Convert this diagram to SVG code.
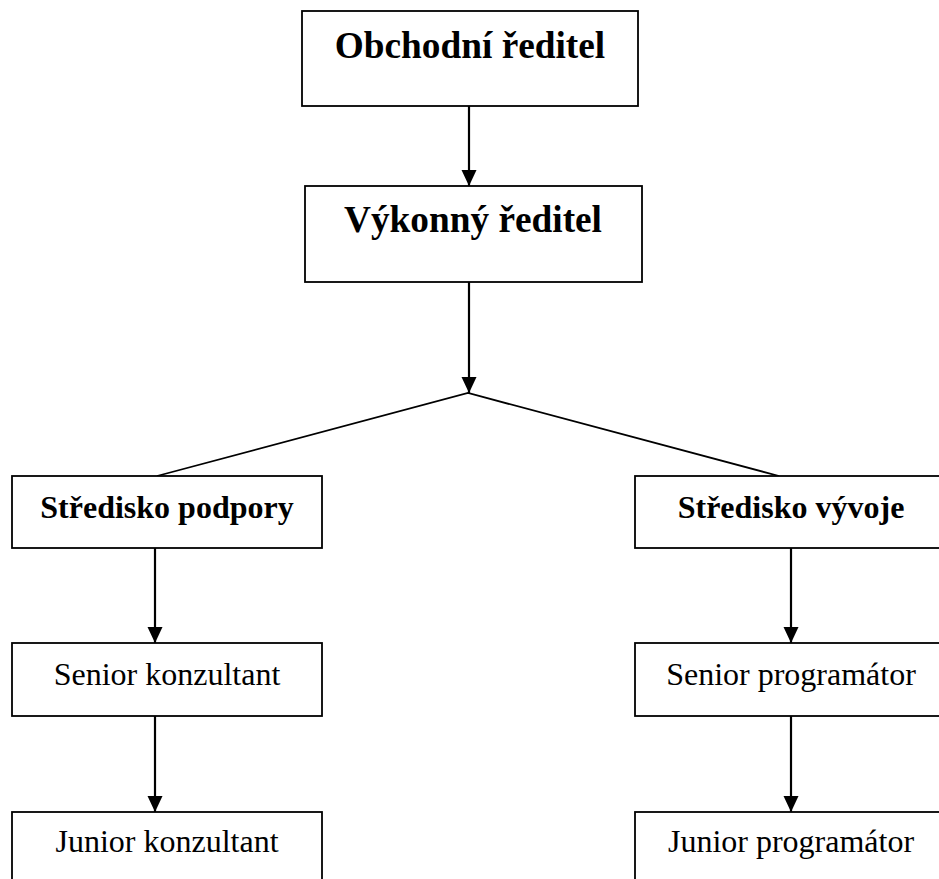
<svg xmlns="http://www.w3.org/2000/svg" width="939" height="879" viewBox="0 0 939 879">
  <style>
    .box { fill: #ffffff; stroke: #000000; stroke-width: 1.8; }
    .t { font-family: "Liberation Serif", "Times New Roman", serif; fill: #000000; text-anchor: middle; }
    .b37 { font-size: 37.3px; font-weight: bold; }
    .b32 { font-size: 32px; font-weight: bold; }
    .r32 { font-size: 32px; }
    .conn { stroke: #000000; stroke-width: 2.2; fill: none; }
    .diag { stroke: #000000; stroke-width: 1.8; fill: none; }
  </style>
  <defs>
    <marker id="arr" markerUnits="userSpaceOnUse" markerWidth="16" markerHeight="17" viewBox="0 0 16 17" refX="16" refY="8.5" orient="auto">
      <path d="M0,1 L16,8.5 L0,16 Z" fill="#000000"/>
    </marker>
  </defs>
  <rect width="939" height="879" fill="#ffffff"/>

  <g id="connectors">
    <line class="conn" x1="469" y1="106" x2="469" y2="186" marker-end="url(#arr)"/>
    <line class="conn" x1="469" y1="282" x2="469" y2="393" marker-end="url(#arr)"/>
    <polyline class="diag" points="157,476 468,393 779,476"/>
    <line class="conn" x1="155" y1="548" x2="155" y2="643" marker-end="url(#arr)"/>
    <line class="conn" x1="155" y1="716" x2="155" y2="812" marker-end="url(#arr)"/>
    <line class="conn" x1="791" y1="548" x2="791" y2="643" marker-end="url(#arr)"/>
    <line class="conn" x1="791" y1="716" x2="791" y2="812" marker-end="url(#arr)"/>
  </g>

  <g id="obchodni-reditel">
    <rect class="box" x="302" y="11" width="336" height="95"/>
    <text class="t b37" x="470" y="58">Obchodní ředitel</text>
  </g>
  <g id="vykonny-reditel">
    <rect class="box" x="305" y="186" width="337" height="96"/>
    <text class="t b37" x="473" y="232">Výkonný ředitel</text>
  </g>
  <g id="stredisko-podpory">
    <rect class="box" x="12" y="476" width="310" height="72"/>
    <text class="t b32" x="167" y="518">Středisko podpory</text>
  </g>
  <g id="stredisko-vyvoje">
    <rect class="box" x="635" y="476" width="312" height="72"/>
    <text class="t b32" x="791" y="518">Středisko vývoje</text>
  </g>
  <g id="senior-konzultant">
    <rect class="box" x="12" y="643" width="310" height="73"/>
    <text class="t r32" x="167" y="685">Senior konzultant</text>
  </g>
  <g id="senior-programator">
    <rect class="box" x="635" y="643" width="312" height="73"/>
    <text class="t r32" x="791" y="685">Senior programátor</text>
  </g>
  <g id="junior-konzultant">
    <rect class="box" x="12" y="812" width="310" height="80"/>
    <text class="t r32" x="167" y="852">Junior konzultant</text>
  </g>
  <g id="junior-programator">
    <rect class="box" x="635" y="812" width="312" height="80"/>
    <text class="t r32" x="791" y="852">Junior programátor</text>
  </g>
</svg>
